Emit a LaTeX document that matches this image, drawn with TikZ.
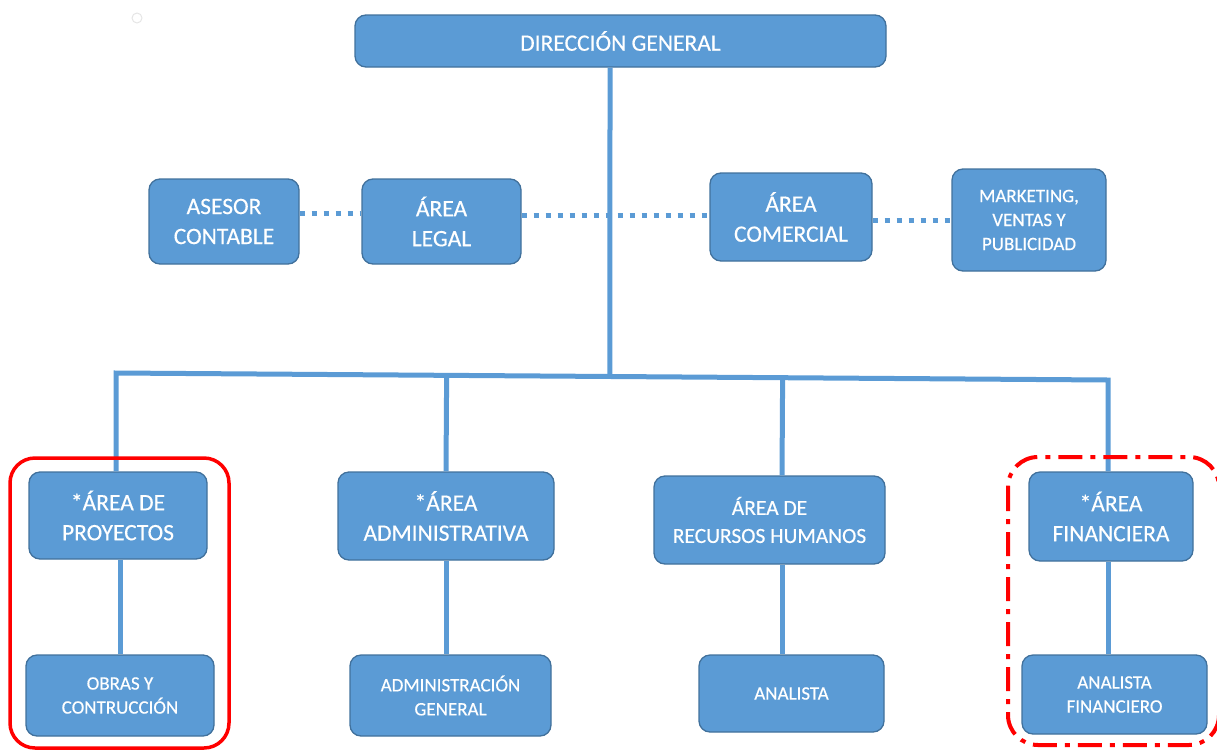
\documentclass[tikz,border=0pt]{standalone}
\usepackage{fontspec}
\setmainfont{Carlito}[FakeBold=0.4]
\usetikzlibrary{calc}
\definecolor{boxfill}{HTML}{5B9BD5}
\definecolor{boxline}{HTML}{41719C}
\definecolor{redmark}{HTML}{FF0000}
\begin{document}
\begin{tikzpicture}[x=1pt,y=-1pt,
  unit/.style={draw=boxline, line width=1.3pt, fill=boxfill, rounded corners=11pt,
    text=white, align=center, inner sep=0pt, anchor=center},
  big/.style={font=\fontsize{23.5}{30}\selectfont},
  mid/.style={font=\fontsize{21.5}{28}\selectfont},
  head/.style={font=\fontsize{23.5}{28}\selectfont},
  small/.style={font=\fontsize{19}{24}\selectfont},
  link/.style={draw=boxfill, line width=5pt},
  dotlink/.style={draw=boxfill, line width=5pt, dash pattern=on 5pt off 7pt},
  groupbox/.style={draw=redmark, line width=3.5pt},
]
\useasboundingbox (0,0) rectangle (1217,750);

% faint mark in the top-left corner
\draw[black!10, line width=1pt] (137,18) circle (5pt);

% top level
\node[unit, head, minimum width=531pt, minimum height=52pt] (dg) at (620.5,41) {DIRECCIÓN GENERAL};

% staff units
\node[unit, big, minimum width=150pt, minimum height=85pt] (asesor) at (224,221.5) {ASESOR\\CONTABLE};
\node[unit, big, minimum width=159pt, minimum height=85pt] (legal) at (441.5,221.5) {ÁREA\\LEGAL};
\node[unit, big, minimum width=162pt, minimum height=88pt] (comercial) at (791,217) {ÁREA\\COMERCIAL};
\node[unit, small, minimum width=154pt, minimum height=102pt] (mkt) at (1029,220) {MARKETING,\\VENTAS Y\\PUBLICIDAD};

% line areas
\node[unit, big, minimum width=178pt, minimum height=87pt] (proy) at (118,515.5) {*ÁREA DE\\PROYECTOS};
\node[unit, big, minimum width=216pt, minimum height=88pt] (admin) at (446,516) {*ÁREA\\ADMINISTRATIVA};
\node[unit, mid, minimum width=231pt, minimum height=88pt] (rrhh) at (769.5,520) {ÁREA DE\\RECURSOS HUMANOS};
\node[unit, big, minimum width=164pt, minimum height=89pt] (fin) at (1111,516.5) {*ÁREA\\FINANCIERA};

% sub units
\node[unit, small, minimum width=188pt, minimum height=81pt] (obras) at (120,695.5) {OBRAS Y\\CONTRUCCIÓN};
\node[unit, small, minimum width=201pt, minimum height=81pt] (admgen) at (450.5,695.5) {ADMINISTRACIÓN\\GENERAL};
\node[unit, small, minimum width=185pt, minimum height=77pt] (analista) at (791.5,693.5) {ANALISTA};
\node[unit, small, minimum width=185pt, minimum height=79pt] (anfin) at (1114.5,694.5) {ANALISTA\\FINANCIERO};

% main hierarchy
\coordinate (hub) at (610,377);
\coordinate (barL) at (116,373);
\coordinate (barR) at (1108,380);
\coordinate (rrhhx) at (782,0);
\draw[link] (dg.south -| hub) -- ($(barL)!(hub)!(barR)$);
\draw[link] (proy.north -| barL) -- (barL) -- (barR) -- (fin.north -| barR);
\draw[link] ($(barL)!(admin.north)!(barR)$) -- (admin.north);
\draw[link] ($(barL)!(rrhh.north -| rrhhx)!(barR)$) -- (rrhh.north -| rrhhx);

% sub links
\draw[link] (proy.south -| obras.north) -- (obras.north);
\draw[link] (admin.south) -- (admin.south |- admgen.north);
\draw[link] (rrhh.south -| rrhhx) -- (analista.north -| rrhhx);
\draw[link] (fin.south -| barR) -- (anfin.north -| barR);

% staff links
\draw[dotlink] ([yshift=8.5pt]asesor.east) coordinate (d1) -- (d1 -| legal.west);
\draw[dotlink] ([yshift=6.5pt]legal.east) coordinate (d2) -- (d2 -| comercial.west);
\draw[dotlink] ([yshift=-3pt]comercial.east) coordinate (d3) -- (d3 -| mkt.west);

% highlighted groups
\draw[groupbox, rounded corners=25pt] (10,458) rectangle (229,748);
\draw[groupbox, line width=4pt, rounded corners=30pt, dash pattern=on 24pt off 8pt on 5pt off 8pt]
  (1008,457) rectangle (1219,745);
\end{tikzpicture}
\end{document}
